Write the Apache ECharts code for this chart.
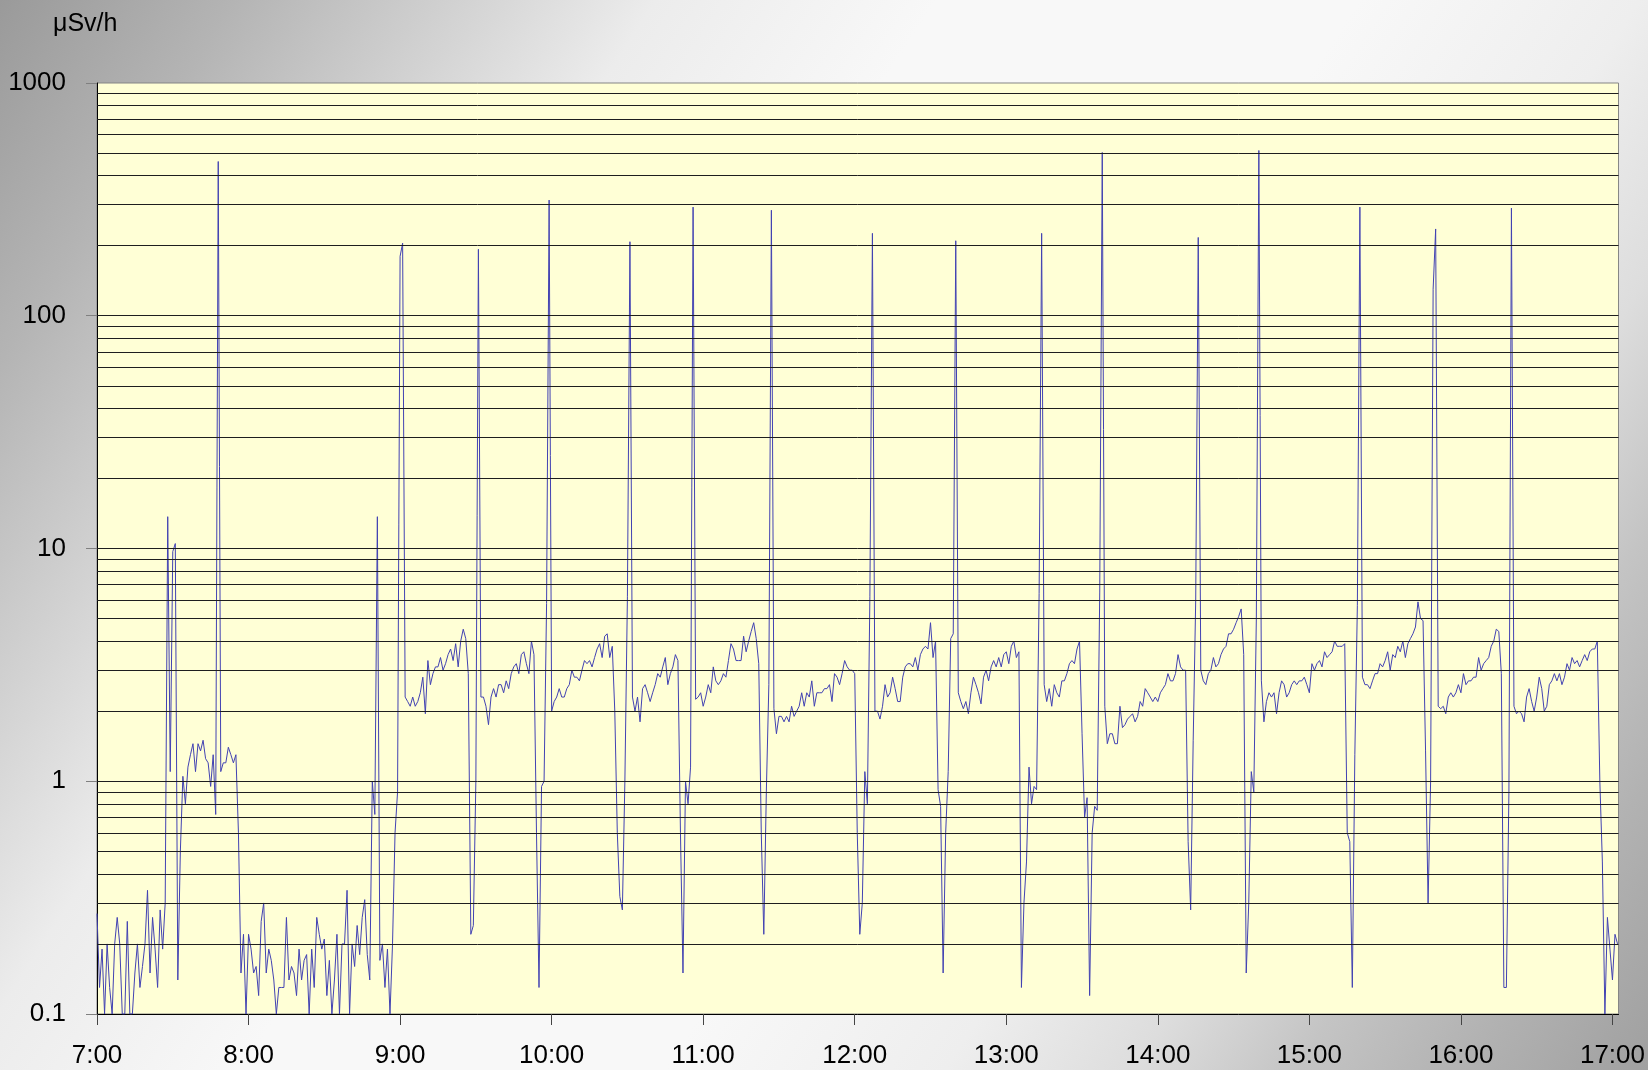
<!DOCTYPE html>
<html>
<head>
<meta charset="utf-8">
<script src="https://cdn.jsdelivr.net/npm/echarts@6/dist/echarts.min.js"></script>
<style>
  html, body { margin: 0; padding: 0; }
  #chart {
    width: 1648px; height: 1070px;
    background: linear-gradient(123deg, #9a9a9a 0%, #b4b4b4 10%, #cdcdcd 18%, #ececec 28%, #f8f8f8 40%, #f8f8f8 58%, #eeeeee 70%, #dddddd 78%, #c4c4c4 85%, #b2b2b2 92%, #a0a0a0 100%);
  }
</style>
</head>
<body>
<div id="chart"></div>
<script>
// Dose rate (µSv/h), one reading per minute, starting at 7:00
const h07 = [0.27,0.13,0.19,0.1,0.2,0.13,0.1,0.2,0.26,0.2,
  0.1,0.1,0.25,0.1,0.1,0.15,0.2,0.13,0.16,0.2,
  0.34,0.15,0.26,0.19,0.13,0.28,0.19,0.3,13.7,1.1,
  9.7,10.5,0.14,0.5,1.05,0.8,1.15,1.3,1.45,1.1,
  1.45,1.35,1.5,1.25,1.2,0.95,1.3,0.72,460,1.1,
  1.2,1.2,1.4,1.3,1.2,1.3,0.6,0.15,0.22,0.1];
const h08 = [0.22,0.19,0.15,0.16,0.12,0.25,0.3,0.15,0.19,0.17,
  0.14,0.1,0.13,0.13,0.13,0.26,0.14,0.16,0.15,0.12,
  0.19,0.14,0.17,0.18,0.1,0.19,0.13,0.26,0.22,0.19,
  0.21,0.12,0.17,0.1,0.14,0.22,0.1,0.2,0.2,0.34,
  0.1,0.2,0.16,0.24,0.18,0.26,0.31,0.18,0.14,1.0,
  0.72,13.7,0.17,0.2,0.13,0.19,0.1,0.2,0.6,0.9];
const h09 = [180,205,2.3,2.2,2.1,2.3,2.1,2.2,2.4,2.8,
  1.95,3.3,2.6,2.9,3.1,3.1,3.4,3.0,3.2,3.5,
  3.7,3.3,3.9,3.1,4.0,4.5,4.1,2.9,0.22,0.24,
  1.0,193,2.3,2.3,2.1,1.75,2.3,2.5,2.3,2.6,
  2.6,2.4,2.7,2.5,2.9,3.1,3.2,2.9,3.5,3.6,
  3.2,2.9,4.0,3.5,0.6,0.13,0.95,1.0,5.8,314];
const h10 = [2.0,2.2,2.3,2.5,2.3,2.3,2.5,2.6,3.0,2.8,
  2.8,2.7,3.0,3.3,3.2,3.3,3.1,3.4,3.7,3.9,
  3.4,4.2,4.3,3.4,3.8,2.0,0.6,0.32,0.28,1.0,
  6.2,208,2.3,2.0,2.3,1.8,2.5,2.6,2.4,2.2,
  2.4,2.6,2.9,2.8,3.1,3.4,2.6,2.9,3.1,3.5,
  3.3,0.6,0.15,1.0,0.8,1.15,293,2.25,2.3,2.4];
const h11 = [2.1,2.3,2.6,2.4,3.1,2.7,2.6,2.7,2.9,2.8,
  3.3,3.9,3.7,3.3,3.3,3.3,4.2,3.6,4.0,4.4,
  4.8,4.1,3.2,0.6,0.22,0.9,2.6,284,2.05,1.6,
  1.9,1.9,1.8,1.9,1.8,2.1,1.9,2.0,2.1,2.4,
  2.1,2.4,2.3,2.7,2.1,2.4,2.4,2.4,2.5,2.5,
  2.6,2.2,2.9,2.8,2.6,2.9,3.3,3.1,3.0,3.0];
const h12 = [2.9,0.6,0.22,0.3,1.1,0.8,6.2,226,2.0,2.0,
  1.85,2.1,2.6,2.3,2.4,2.8,2.5,2.2,2.2,2.8,
  3.1,3.2,3.2,3.1,3.4,3.0,3.5,3.7,3.8,3.7,
  4.8,3.4,4.0,0.92,0.78,0.15,0.6,1.1,4.1,4.3,
  210,2.4,2.2,2.05,2.2,1.95,2.4,2.8,2.6,2.4,
  2.15,2.8,3.0,2.7,3.1,3.3,3.1,3.4,3.1,3.5];
const h13 = [3.6,3.2,3.8,4.0,3.4,3.6,0.13,0.3,0.45,1.15,
  0.8,0.95,0.92,6.4,226,2.6,2.2,2.5,2.1,2.6,
  2.4,2.3,2.7,2.7,2.9,3.2,3.3,3.2,3.7,4.0,
  1.6,0.7,0.85,0.12,0.6,0.78,0.75,6.5,503,2.1,
  1.45,1.6,1.6,1.45,1.45,2.1,1.7,1.75,1.85,1.9,
  1.95,1.8,1.9,2.2,2.1,2.5,2.4,2.3,2.2,2.3];
const h14 = [2.2,2.4,2.5,2.6,2.9,2.7,2.7,2.9,3.5,3.1,
  3.0,3.0,0.55,0.28,1.5,6.0,217,3.0,2.7,2.6,
  2.9,3.0,3.4,3.1,3.2,3.5,3.7,3.8,4.3,4.3,
  4.5,4.8,5.1,5.5,3.5,0.15,0.3,1.1,0.9,5.0,
  513,2.7,1.8,2.2,2.4,2.3,2.4,1.95,2.4,2.7,
  2.6,2.3,2.4,2.6,2.7,2.6,2.7,2.7,2.8,2.6];
const h15 = [2.4,3.2,3.0,3.2,3.3,3.1,3.6,3.4,3.5,3.6,
  4.0,3.8,3.8,3.8,3.9,0.6,0.55,0.13,1.3,5.7,
  293,2.8,2.6,2.6,2.5,2.7,2.9,2.9,3.2,3.1,
  3.3,3.6,3.0,3.5,3.4,3.8,3.6,4.0,3.4,3.9,
  4.1,4.3,4.6,5.9,5.0,4.9,1.35,0.3,1.0,130,
  236,2.1,2.05,2.1,1.95,2.3,2.4,2.3,2.4,2.6];
const h16 = [2.4,2.9,2.6,2.7,2.7,2.8,2.8,3.4,3.0,3.2,
  3.3,3.4,3.8,4.0,4.5,4.4,2.9,0.13,0.13,0.9,
  290,2.1,1.95,2.0,1.95,1.8,2.3,2.5,2.2,2.0,
  2.3,2.8,2.5,2.0,2.1,2.6,2.7,2.9,2.7,2.9,
  2.6,2.8,3.2,3.0,3.4,3.2,3.3,3.1,3.3,3.5,
  3.3,3.6,3.7,3.7,4.0,1.0,0.45,0.1,0.26,0.19];
const h17 = [0.14,0.22,0.2];

const hourLabels = ['7:00','8:00','9:00','10:00','11:00','12:00','13:00','14:00','15:00','16:00','17:00'];
const hourTicks = [0,60,120,180,240,300,360,420,480,540,600];
const gridValues = [0.2,0.3,0.4,0.5,0.6,0.7,0.8,0.9,1,2,3,4,5,6,7,8,9,10,
  20,30,40,50,60,70,80,90,100,200,300,400,500,600,700,800,900];

const hours = [h07,h08,h09,h10,h11,h12,h13,h14,h15,h16,h17];
const seriesData = [];
hours.forEach((arr, hi) => arr.forEach((v, i) => seriesData.push([hi * 60 + i, v])));

const chart = echarts.init(document.getElementById('chart'), null, {renderer: 'canvas'});
const font = '"Liberation Sans", Arial, sans-serif';
chart.setOption({
  backgroundColor: 'transparent',
  animation: false,
  grid: {
    left: 97, right: 26, top: 83, bottom: 56,
    show: true, backgroundColor: '#ffffd6', borderColor: '#858585', borderWidth: 1
  },
  graphic: [{
    type: 'text', left: 53, top: 12,
    style: {text: 'μSv/h', font: '25px ' + font, fill: '#000'}
  }],
  xAxis: {
    type: 'value', min: 0, max: 602.4,
    axisLine: {show: true, lineStyle: {color: '#000', width: 1}},
    axisTick: {show: true, length: 11, customValues: hourTicks, lineStyle: {color: '#444', width: 1}},
    axisLabel: {
      customValues: hourTicks, margin: 29, fontSize: 26, fontFamily: font, color: '#000',
      formatter: v => hourLabels[Math.round(v / 60)]
    },
    splitLine: {show: false}
  },
  yAxis: {
    type: 'log', logBase: 10, min: 0.1, max: 1000,
    axisLine: {show: true, lineStyle: {color: '#000', width: 1}},
    axisTick: {show: true, length: 11, lineStyle: {color: '#808080', width: 1}},
    axisLabel: {
      margin: 31, fontSize: 26, fontFamily: font, color: '#000',
      formatter: v => String(parseFloat(Number(v).toPrecision(3)))
    },
    splitLine: {show: false},
    minorTick: {show: false}, minorSplitLine: {show: false}
  },
  series: [
    {
      type: 'line', name: 'grid', data: [], z: 1, silent: true,
      markLine: {
        silent: true, symbol: 'none', animation: false,
        label: {show: false},
        lineStyle: {color: '#1e1e1e', width: 1, type: 'solid'},
        emphasis: {disabled: true},
        data: gridValues.map(v => ({yAxis: v}))
      }
    },
    {
      type: 'line', name: 'µSv/h', data: seriesData, z: 3,
      showSymbol: false, symbol: 'none', sampling: false,
      lineStyle: {color: '#4242b2', width: 1},
      emphasis: {disabled: true}
    }
  ]
});
</script>
</body>
</html>
